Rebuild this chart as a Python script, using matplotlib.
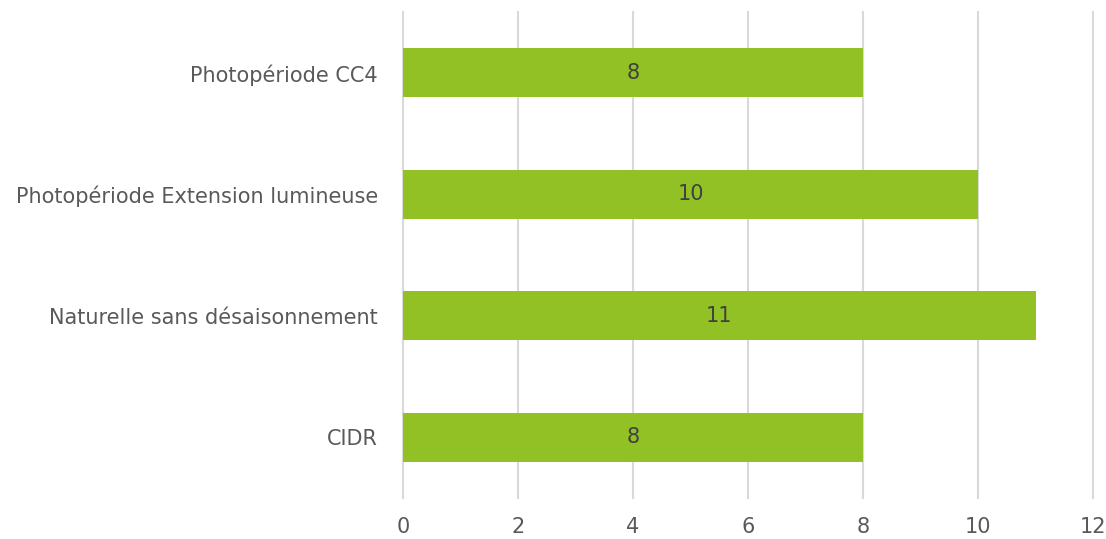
import matplotlib
matplotlib.use("Agg")
import matplotlib.pyplot as plt

categories = ["CIDR", "Naturelle sans désaisonnement",
              "Photopériode Extension lumineuse", "Photopériode CC4"]
values = [8, 11, 10, 8]
xticks = [0, 2, 4, 6, 8, 10, 12]

plt.rcParams['font.family'] = ['DejaVu Sans']

fig = plt.figure(figsize=(11.06, 5.39), dpi=100)
ax = fig.add_axes([403/1106, 1 - 498/539, 690/1106, 486/539])

ypos = range(len(categories))
bars = ax.barh(ypos, values, height=0.4, color="#92C126", zorder=3)
for y, v in zip(ypos, values):
    ax.text(v / 2, y, str(v), ha="center", va="center",
            fontsize=15, color="#404040", zorder=4)

ax.set_xlim(0, 12)
ax.set_ylim(-0.5, len(categories) - 0.5)
ax.set_xticks(xticks)
ax.set_yticks(list(ypos))
ax.set_yticklabels(categories)
ax.grid(axis="x", color="#d9d9d9", linewidth=1.5, zorder=0)
# keep the edge gridlines at full width
for gl in ax.get_xgridlines():
    gl.set_clip_on(False)
ax.tick_params(length=0, labelsize=15, colors="#595959")
ax.tick_params(axis="x", pad=14)
ax.tick_params(axis="y", pad=18)
for s in ax.spines.values():
    s.set_visible(False)

fig.savefig("out.png", dpi=100)
